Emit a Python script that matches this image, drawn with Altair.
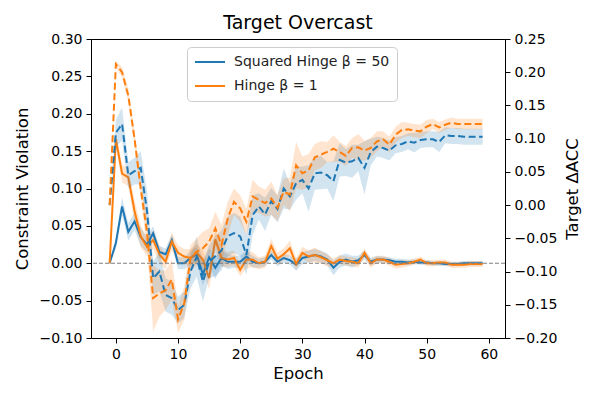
import altair as alt
import pandas as pd

SQ = "Squared Hinge β = 50"
HI = "Hinge β = 1"
BLUE = "#1f77b4"
ORANGE = "#ff7f0e"

epochs = list(range(-1, 60))

sq_cv = [0, 0.027, 0.076, 0.042, 0.056, 0.035, 0.025, 0.040, 0.015, 0.012,
         0.031, 0.000, 0.000, 0.007, 0.012, -0.015, 0.008, -0.006, 0.007, 0.002,
         0.002, 0.002, 0.009, 0.002, 0.000, 0.002, 0.011, 0.002, 0.007, 0.004,
         -0.002, 0.007, 0.009, 0.011, 0.009, 0.005, -0.006, 0.002, 0.005, 0.002,
         0.004, 0.011, 0.002, 0.005, 0.005, 0.004, 0.002, 0.002, 0.001, 0.002,
         0.001, 0.001, 0.000, 0.000, -0.001, -0.001, -0.001, 0.000, 0.000, 0.000,
         0.000]
hinge_cv = [0, 0.166, 0.120, 0.115, 0.070, 0.036, 0.022, 0.031, 0.012, 0.002,
            0.029, 0.014, 0.009, 0.007, 0.014, 0.005, -0.020, 0.032, 0.007, 0.005,
            0.007, -0.009, 0.005, 0.005, 0.000, 0.002, 0.023, 0.006, 0.012, 0.020,
            -0.001, 0.014, 0.009, 0.011, 0.008, 0.004, 0.000, 0.005, 0.003, 0.002,
            0.000, 0.014, 0.000, 0.005, 0.005, 0.002, -0.002, -0.001, 0.000, 0.002,
            0.005, 0.000, 0.000, 0.001, 0.001, -0.002, -0.002, -0.002, -0.001, -0.001,
            -0.001]
sq_acc = [0.0, 0.109, 0.122, 0.045, 0.051, 0.056, -0.008, -0.110, -0.100, -0.135,
          -0.140, -0.158, -0.150, -0.100, -0.078, -0.115, -0.085, -0.077, -0.068, -0.047,
          -0.042, -0.047, -0.075, -0.015, -0.002, -0.014, 0.006, -0.006, 0.025, 0.013,
          0.033, 0.038, 0.025, 0.048, 0.049, 0.045, 0.036, 0.068, 0.064, 0.066,
          0.071, 0.056, 0.080, 0.088, 0.086, 0.082, 0.090, 0.092, 0.096, 0.094,
          0.098, 0.099, 0.099, 0.095, 0.105, 0.104, 0.104, 0.103, 0.103, 0.103,
          0.103]
hinge_acc = [0.0, 0.212, 0.200, 0.165, 0.100, 0.025, -0.040, -0.140, -0.133, -0.128,
             -0.112, -0.172, -0.148, -0.080, -0.070, -0.065, -0.055, -0.035, -0.060, -0.020,
             0.005, -0.005, -0.025, 0.013, 0.008, 0.003, 0.010, -0.004, 0.020, 0.016,
             0.060, 0.048, 0.052, 0.072, 0.076, 0.080, 0.085, 0.080, 0.074, 0.086,
             0.087, 0.082, 0.086, 0.096, 0.099, 0.091, 0.106, 0.113, 0.114, 0.112,
             0.111, 0.118, 0.122, 0.117, 0.121, 0.124, 0.122, 0.122, 0.122, 0.122,
             0.122]

sq_cv_std = [0, 0.008, 0.012, 0.012, 0.012, 0.012, 0.010, 0.010, 0.008, 0.008,
             0.008, 0.008, 0.008, 0.010, 0.010, 0.015, 0.012, 0.015, 0.010, 0.010,
             0.008, 0.008, 0.008, 0.008, 0.006, 0.006, 0.006, 0.006, 0.006, 0.006,
             0.008, 0.008, 0.008, 0.008, 0.008, 0.008, 0.010, 0.008, 0.008, 0.008,
             0.006, 0.006, 0.005, 0.005, 0.004, 0.004, 0.004, 0.004, 0.004, 0.003,
             0.003, 0.003, 0.003, 0.003, 0.003, 0.003, 0.003, 0.003, 0.003, 0.003,
             0.003]
hinge_cv_std = [0, 0.010, 0.012, 0.012, 0.015, 0.015, 0.012, 0.012, 0.012, 0.010,
                0.012, 0.010, 0.010, 0.012, 0.012, 0.012, 0.015, 0.015, 0.012, 0.010,
                0.010, 0.008, 0.012, 0.010, 0.008, 0.008, 0.010, 0.008, 0.008, 0.010,
                0.008, 0.008, 0.008, 0.010, 0.008, 0.008, 0.006, 0.006, 0.006, 0.006,
                0.006, 0.006, 0.006, 0.005, 0.005, 0.005, 0.005, 0.005, 0.004, 0.004,
                0.004, 0.004, 0.004, 0.004, 0.004, 0.004, 0.004, 0.004, 0.004, 0.004,
                0.004]
sq_acc_std = [0, 0.020, 0.025, 0.020, 0.020, 0.025, 0.030, 0.025, 0.030, 0.025,
              0.025, 0.020, 0.020, 0.025, 0.030, 0.030, 0.025, 0.030, 0.030, 0.030,
              0.030, 0.030, 0.030, 0.030, 0.020, 0.025, 0.020, 0.020, 0.030, 0.020,
              0.025, 0.020, 0.035, 0.025, 0.025, 0.020, 0.030, 0.025, 0.020, 0.025,
              0.020, 0.040, 0.020, 0.015, 0.015, 0.015, 0.012, 0.012, 0.012, 0.015,
              0.012, 0.012, 0.012, 0.015, 0.012, 0.012, 0.012, 0.012, 0.012, 0.012,
              0.012]
hinge_acc_std = [0, 0.005, 0.008, 0.010, 0.012, 0.015, 0.025, 0.050, 0.035, 0.030,
                 0.030, 0.020, 0.025, 0.020, 0.020, 0.025, 0.020, 0.025, 0.030, 0.025,
                 0.020, 0.020, 0.020, 0.025, 0.020, 0.020, 0.025, 0.020, 0.020, 0.025,
                 0.035, 0.025, 0.025, 0.020, 0.020, 0.015, 0.020, 0.015, 0.015, 0.015,
                 0.020, 0.015, 0.015, 0.015, 0.012, 0.012, 0.012, 0.012, 0.010, 0.010,
                 0.010, 0.010, 0.008, 0.008, 0.008, 0.008, 0.008, 0.008, 0.008, 0.008,
                 0.008]

x_ticks = [0, 10, 20, 30, 40, 50, 60]
cv_ticks = [-0.10, -0.05, 0.00, 0.05, 0.10, 0.15, 0.20, 0.25, 0.30]
acc_ticks = [-0.20, -0.15, -0.10, -0.05, 0.00, 0.05, 0.10, 0.15, 0.20, 0.25]

rows = []
for name, cv, cvs, acc, accs in [(SQ, sq_cv, sq_cv_std, sq_acc, sq_acc_std),
                                 (HI, hinge_cv, hinge_cv_std, hinge_acc, hinge_acc_std)]:
    for e, c, cs, a, s in zip(epochs, cv, cvs, acc, accs):
        rows.append({"epoch": e, "series": name, "cv": c, "cv_lo": c - cs, "cv_hi": c + cs,
                     "acc": a, "acc_lo": a - s, "acc_hi": a + s})
df = pd.DataFrame(rows)

base = alt.Chart(df)
xenc = alt.X("epoch:Q", scale=alt.Scale(domain=[-4, 62.6], nice=False, zero=False),
             axis=alt.Axis(values=x_ticks, format="d", title="Epoch", titlePadding=4))
cv_scale = alt.Scale(domain=[-0.1, 0.3], nice=False, zero=False)
acc_scale = alt.Scale(domain=[-0.2, 0.25], nice=False, zero=False)
cv_axis = alt.Axis(values=cv_ticks, format=".2f", title="Constraint Violation", orient="left",
                   titlePadding=9)
acc_axis = alt.Axis(values=acc_ticks, format=".2f", title="Target ΔACC", orient="right",
                    titleAngle=270, titlePadding=24)
color = alt.Color("series:N", scale=alt.Scale(domain=[SQ, HI], range=[BLUE, ORANGE]),
                  legend=alt.Legend(title=None, orient="none", legendX=96, legendY=8))

left_layers = []
right_layers = []
for name, col in [(SQ, BLUE), (HI, ORANGE)]:
    left_layers.append(
        base.transform_filter(alt.datum.series == name).mark_area(color=col, opacity=0.2).encode(
            x=xenc, y=alt.Y("cv_lo:Q", scale=cv_scale, axis=cv_axis), y2="cv_hi:Q"))
    right_layers.append(
        base.transform_filter(alt.datum.series == name).mark_area(color=col, opacity=0.2).encode(
            x=xenc, y=alt.Y("acc_lo:Q", scale=acc_scale, axis=acc_axis), y2="acc_hi:Q"))

cv_lines = base.mark_line(strokeWidth=2).encode(
    x=xenc, y=alt.Y("cv:Q", scale=cv_scale, axis=cv_axis), color=color)
zero = alt.Chart(pd.DataFrame({"z": [0.0]})).mark_rule(
    color="gray", strokeDash=[4, 2], strokeWidth=1).encode(
    y=alt.Y("z:Q", scale=cv_scale, axis=cv_axis))
acc_lines = base.mark_line(strokeWidth=2, strokeDash=[7, 3.5]).encode(
    x=xenc, y=alt.Y("acc:Q", scale=acc_scale, axis=acc_axis), color=color)

left = alt.layer(*left_layers, cv_lines, zero)
right = alt.layer(*right_layers, acc_lines)

chart = alt.layer(left, right).resolve_scale(y="independent").properties(
    width=414, height=299,
    title=alt.Title("Target Overcast", fontSize=19, font="DejaVu Sans", fontWeight="normal",
                    color="black", offset=0, dy=1),
    padding={"left": 83, "top": 31, "right": 87, "bottom": 54},
    autosize=alt.AutoSizeParams(type="none"),
).configure_axis(
    grid=False, domainColor="black", domainWidth=1, tickColor="black", tickWidth=1,
    tickSize=5, labelColor="black", titleColor="black", labelFont="DejaVu Sans",
    titleFont="DejaVu Sans", labelFontSize=14, titleFontSize=16.5, titleFontWeight="normal",
    labelPadding=4,
).configure_view(stroke="black", strokeWidth=1).configure_legend(
    symbolType="stroke", symbolStrokeWidth=2, symbolSize=900, labelFont="DejaVu Sans",
    labelFontSize=14, labelColor="#222222", labelOffset=8, padding=7, clipHeight=16,
    rowPadding=8, strokeColor="#cccccc", fillColor="white", cornerRadius=4,
)

chart.save("out.html", embed_options={"renderer": "svg", "actions": False})
